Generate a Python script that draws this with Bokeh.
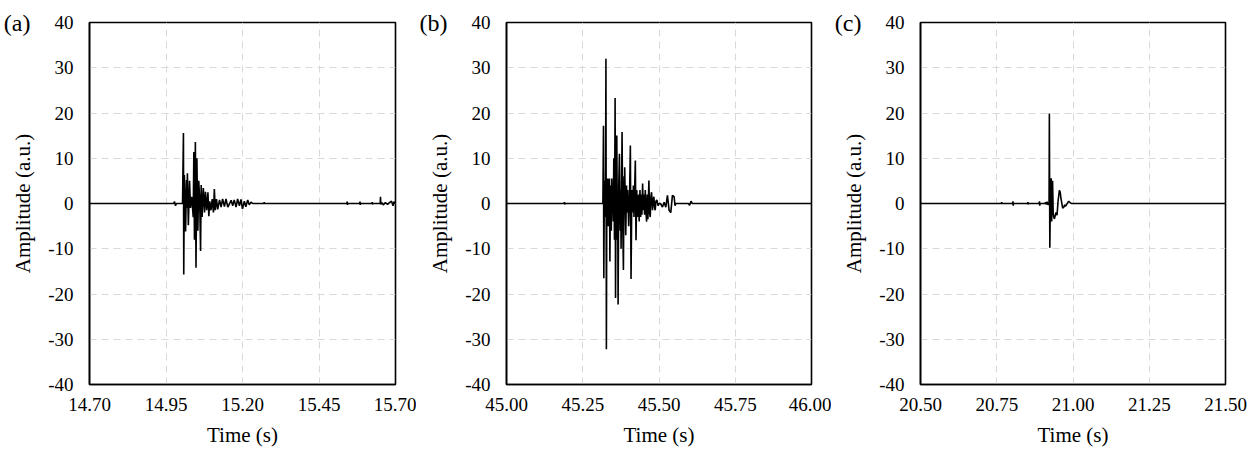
from bokeh.plotting import figure
from bokeh.models import Range1d, FixedTicker, PrintfTickFormatter, LinearAxis
from bokeh.layouts import row
from bokeh.embed import file_html
from bokeh.resources import INLINE

# ---------------- data ----------------
y_ticks = [-40, -30, -20, -10, 0, 10, 20, 30, 40]

a_ticks = [14.70, 14.95, 15.20, 15.45, 15.70]
a_time = [14.700, 14.975, 14.978, 14.981, 14.984, 15.004, 15.007, 15.008, 15.010, 15.014,
          15.017, 15.018, 15.020, 15.023, 15.027, 15.030, 15.034, 15.039, 15.041, 15.043,
          15.046, 15.048, 15.051, 15.054, 15.057, 15.060, 15.063, 15.065, 15.068, 15.072,
          15.076, 15.079, 15.083, 15.087, 15.090, 15.093, 15.097, 15.101, 15.105, 15.108,
          15.111, 15.115, 15.119, 15.125, 15.130, 15.135, 15.141, 15.146, 15.152, 15.163,
          15.168, 15.173, 15.179, 15.184, 15.190, 15.195, 15.200, 15.206, 15.211, 15.217,
          15.222, 15.228, 15.233, 15.270, 15.271, 15.272, 15.541, 15.542, 15.543, 15.544,
          15.583, 15.584, 15.585, 15.586, 15.623, 15.624, 15.625, 15.626, 15.650, 15.651,
          15.652, 15.656, 15.660, 15.667, 15.674, 15.680, 15.687, 15.692, 15.695, 15.698,
          15.700]
a_amp = [0, 0, 0.4, -0.5, 0, 0, 15.6, -15.7, 6.3, -6.2,
         5.2, -1.0, 6.7, -4.8, 5.0, -1.0, 1.5, -3.0, 11.4, -8.0,
         13.6, -14.2, 10.0, -6.0, 5.0, 1.0, -10.5, 4.1, -3.0, 3.4,
         -2.0, 2.6, -1.5, 2.5, -2.8, 0.5, -1.5, 1.0, -2.0, 3.2,
         -1.5, 1.0, -1.3, 0.8, -0.8, 1.0, -0.7, 1.0, -0.8, 0.7,
         -0.5, 0.8, -0.8, 1.0, -0.5, 0.9, -1.2, 0.5, -0.7, 0.8,
         -0.3, 0.3, 0, 0, 0.3, 0, 0, 0.4, -0.3, 0,
         0, 0.4, -0.3, 0, 0, 0.3, -0.2, 0, 0, 1.5,
         -0.2, 0.2, -0.3, 0.2, -0.2, 0.2, 0.5, -0.5, 0.4, 0,
         0]

b_ticks = [45.00, 45.25, 45.50, 45.75, 46.00]
b_time = [45.000, 45.189, 45.190, 45.191, 45.192, 45.316, 45.318, 45.319, 45.321, 45.3235,
          45.325, 45.326, 45.3275, 45.329, 45.332, 45.3335, 45.335, 45.3377, 45.339, 45.341,
          45.3435, 45.3453, 45.347, 45.3485, 45.350, 45.3518, 45.354, 45.3561, 45.3575, 45.3594,
          45.3616, 45.3635, 45.3645, 45.3659, 45.368, 45.3703, 45.373, 45.3745, 45.3757, 45.3789,
          45.381, 45.3833, 45.3855, 45.3865, 45.3876, 45.391, 45.3935, 45.3952, 45.3975, 45.4007,
          45.4035, 45.4061, 45.4083, 45.411, 45.4137, 45.4160, 45.4180, 45.4224, 45.4246, 45.4270,
          45.4300, 45.4333, 45.4350, 45.4376, 45.4400, 45.4419, 45.4440, 45.4463, 45.4485, 45.4506,
          45.4528, 45.4550, 45.4571, 45.4593, 45.4615, 45.4636, 45.4669, 45.4690, 45.4712, 45.4735,
          45.4756, 45.4788, 45.4810, 45.4832, 45.4855, 45.4875, 45.4900, 45.4929, 45.4973, 45.5006,
          45.5050, 45.5114, 45.5168, 45.5223, 45.5277, 45.5331, 45.5386, 45.5440, 45.5494, 45.5527,
          45.5549, 45.5961, 45.6004, 45.6048, 45.6091, 46.000]
b_amp = [0, 0, 0.3, -0.2, 0, 0, 17.2, -16.5, 5.0, -3.0,
         8.0, 32.0, -32.2, 3.0, 5.5, -5.0, 2.0, 5.5, -12.8, 4.0,
         -6.0, 5.5, -2.0, 1.0, -4.0, 10.0, -8.0, 23.3, -20.9, 6.0,
         15.0, -8.0, 2.0, -22.3, 4.0, 11.0, -6.0, 3.0, -10.0, 15.8,
         -4.0, -14.7, 6.0, -2.0, 8.0, -7.0, 4.0, -2.0, 3.0, -5.0,
         2.0, 12.8, -16.7, 3.0, -2.0, 4.0, -3.0, 9.5, -8.1, 3.0,
         -3.0, 2.0, -4.0, 3.0, -3.0, 2.0, -2.5, 4.4, -1.5, 2.0,
         -2.5, 3.0, -1.5, -4.0, 2.0, -3.5, 5.1, -2.0, -3.0, 1.5,
         2.5, -1.5, 0.8, 1.5, -0.8, -1.5, 0.5, 0.8, -0.5, 0,
         0, -0.8, 0.3, -0.8, 1.8, -1.5, -2.0, 1.8, 1.5, -0.5,
         0, 0, -0.4, 0.5, 0, 0]

c_ticks = [20.50, 20.75, 21.00, 21.25, 21.50]
c_time = [20.500, 20.765, 20.766, 20.767, 20.802, 20.803, 20.804, 20.805, 20.851, 20.852,
          20.853, 20.854, 20.889, 20.890, 20.891, 20.892, 20.909, 20.910, 20.912, 20.915,
          20.918, 20.9215, 20.9225, 20.924, 20.926, 20.927, 20.9285, 20.930, 20.9315, 20.933,
          20.935, 20.9368, 20.9390, 20.9444, 20.9477, 20.9510, 20.9553, 20.9580, 20.9608, 20.9662,
          20.9700, 20.9728, 20.9760, 20.9793, 20.9858, 20.9945, 21.500]
c_amp = [0, 0, 0.3, 0, 0, 0.5, -0.5, 0, 0, 0.3,
         -0.2, 0, 0, 0.5, -0.5, 0, 0, 0.3, -0.2, 0.4,
         -0.3, 0, 19.9, -9.8, 2.0, -3.0, 5.6, -4.0, 1.0, 5.0,
         -2.0, -3.0, -3.4, -2.0, -2.6, 0.5, 2.9, 2.5, 1.0, -1.0,
         -0.8, -0.3, -0.6, -0.2, 0.5, 0, 0]

panel_tags = ["(a)", "(b)", "(c)"]
x_title = "Time (s)"
y_title = "Amplitude (a.u.)"

# ---------------- styling ----------------
FONT = "Liberation Serif"


def make_panel(tag, t, amp, xt, width, left_border, right_border):
    p = figure(width=width, height=453,
               x_range=Range1d(xt[0], xt[-1]), y_range=Range1d(y_ticks[0], y_ticks[-1]),
               output_backend="svg", toolbar_location=None,
               min_border_left=left_border, min_border_right=right_border,
               min_border_top=22, min_border_bottom=69)
    p.background_fill_color = "white"
    p.border_fill_color = "white"
    p.outline_line_color = "black"
    p.outline_line_width = 1.6

    xtick = FixedTicker(ticks=xt)
    ytick = FixedTicker(ticks=y_ticks)
    xax = p.xaxis[0]
    yax = p.yaxis[0]
    xax.ticker = xtick
    yax.ticker = ytick
    p.xgrid[0].ticker = xtick
    p.ygrid[0].ticker = ytick
    xax.formatter = PrintfTickFormatter(format="%.2f")
    yax.formatter = PrintfTickFormatter(format="%d")

    for g in (p.xgrid[0], p.ygrid[0]):
        g.grid_line_color = "#d9d9d9"
        g.grid_line_dash = "7 5"
        g.grid_line_width = 1

    for ax in (xax, yax):
        ax.axis_line_color = "black"
        ax.axis_line_width = 1.6
        ax.major_tick_line_color = None
        ax.minor_tick_line_color = None
        ax.major_tick_out = 0
        ax.major_tick_in = 0
        ax.major_label_text_font = FONT
        ax.major_label_text_font_size = "19px"
        ax.major_label_text_font_style = "normal"
        ax.major_label_text_color = "black"
        ax.axis_label_text_font = FONT
        ax.axis_label_text_font_size = "21px"
        ax.axis_label_text_font_style = "normal"
        ax.axis_label_text_color = "black"

    xax.axis_label = x_title
    yax.axis_label = y_title
    xax.major_label_standoff = 13
    xax.axis_label_standoff = 9
    yax.major_label_standoff = 16
    yax.axis_label_standoff = 10

    p.line(t, amp, line_color="black", line_width=1.6)

    # panel tag "(a)" etc. drawn as the single tick label of an extra, invisible left axis
    tag_axis = LinearAxis(ticker=FixedTicker(ticks=[y_ticks[-1]]),
                          major_label_overrides={y_ticks[-1]: tag})
    tag_axis.axis_line_color = None
    tag_axis.major_tick_line_color = None
    tag_axis.minor_tick_line_color = None
    tag_axis.major_tick_out = 0
    tag_axis.major_tick_in = 0
    tag_axis.major_label_standoff = -22
    tag_axis.major_label_text_font = FONT
    tag_axis.major_label_text_font_size = "24px"
    tag_axis.major_label_text_color = "black"
    p.add_layout(tag_axis, "left")
    return p


pa = make_panel(panel_tags[0], a_time, a_amp, a_ticks, 416, 88, 21)
pb = make_panel(panel_tags[1], b_time, b_amp, b_ticks, 415, 88, 20)
pc = make_panel(panel_tags[2], c_time, c_amp, c_ticks, 426, 88, 32)

layout = row(pa, pb, pc)
open("out.html", "w").write(file_html(layout, INLINE))
